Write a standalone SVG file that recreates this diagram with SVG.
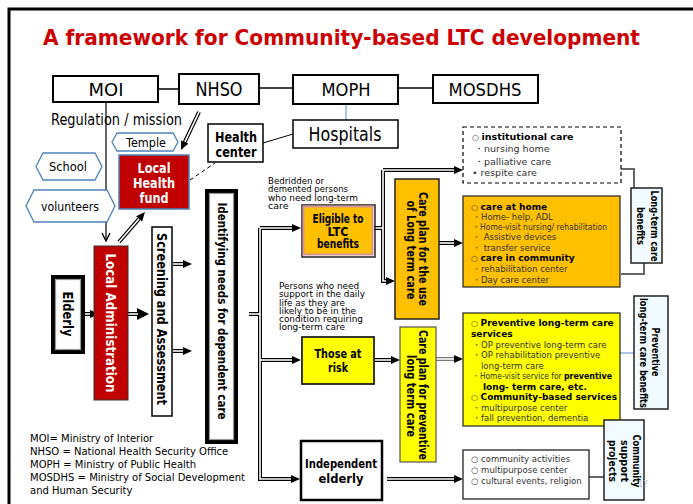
<svg xmlns="http://www.w3.org/2000/svg" width="693" height="504" viewBox="0 0 693 504">
  <defs>
    <style>
      text { font-family: "DejaVu Sans", "Noto Sans", sans-serif; fill: #000; }
      .b { font-weight: bold; }
      .mid { text-anchor: middle; }
      .box { fill: #fff; stroke: #000; stroke-width: 2; }
      .thin { fill: #fff; stroke: #222; stroke-width: 1.3; }
      .hex { fill: #fff; stroke: #4f81bd; stroke-width: 1.3; }
      .red { fill: #c00000; }
      .orange { fill: #ffc000; }
      .yellow { fill: #ffff00; }
      .ice { fill: #f2fbff; stroke: #222; stroke-width: 1.5; }
      .line { fill: none; stroke: #000; stroke-width: 1.5; }
      .grey { fill: none; stroke: #666; stroke-width: 2; }
      .blue { fill: none; stroke: #8eb4e3; stroke-width: 1.5; }
      .dbl-o { fill: none; stroke: #000; stroke-width: 4; }
      .dbl-i { fill: none; stroke: #fff; stroke-width: 1.6; }
      .item { fill: #333; }
      .w { fill: #fff; }
    </style>
    <marker id="ah" viewBox="0 0 9 8" refX="4" refY="4" markerWidth="9" markerHeight="8" markerUnits="userSpaceOnUse" orient="auto">
      <path d="M0,0 L9,4 L0,8 z" fill="#000"/>
    </marker>
    <marker id="ahL" viewBox="0 0 12 12" refX="5" refY="6" markerWidth="12" markerHeight="12" markerUnits="userSpaceOnUse" orient="auto">
      <path d="M0,0 L12,6 L0,12 z" fill="#000"/>
    </marker>
    <marker id="chev" viewBox="0 0 10 10" refX="9" refY="5" markerWidth="10" markerHeight="10" markerUnits="userSpaceOnUse" orient="auto">
      <path d="M1,1 L9,5 L1,9" fill="none" stroke="#000" stroke-width="1.4"/>
    </marker>
  </defs>

  <rect width="693" height="504" fill="#fff"/>
  <!-- slide frame -->
  <path d="M9,504 V9 H693" fill="none" stroke="#000" stroke-width="3"/>

  <text x="43" y="45" class="b" font-size="20.5" style="fill:#cc0000" textLength="597" lengthAdjust="spacingAndGlyphs">A framework for Community-based  LTC development</text>

  <!-- connectors -->
  <g id="connectors">
    <path class="line" d="M158,89 H178 M259,88 H293 M398,88 H433"/>
    <path class="blue" d="M346,104 V120"/>
    <path class="line" d="M263,143 L293,134" style="stroke-width:1"/>
    <path class="line" d="M106,102 V241" marker-end="url(#chev)" style="stroke-width:1.2"/>
    <path d="M190,180 L215,163" fill="none" stroke="#000" stroke-width="1" stroke-dasharray="4,3"/>
    <path class="grey" d="M621,169 H634 V188 M621,274 H644 V263 M589,477 H604"/>
    <path class="blue" d="M620,353 H634"/>

    <!-- double-line arrows: outer strokes -->
    <path class="dbl-o" d="M199,112 L183.1,145.5" marker-end="url(#ah)"/>
    <path class="dbl-o" d="M119,242 L141.7,215.8" marker-end="url(#ah)"/>
    <path class="dbl-o" d="M84,314 H94" marker-end="url(#ah)"/>
    <path class="dbl-o" d="M128,314 H142" marker-end="url(#ahL)"/>
    <path class="dbl-o" d="M173,264 H187" marker-end="url(#ah)"/>
    <path class="dbl-o" d="M173,351 H187" marker-end="url(#ah)"/>
    <path class="dbl-o" d="M249,314 H260"/>
    <path class="dbl-o" d="M260,228 H296" marker-end="url(#ah)"/>
    <path class="dbl-o" d="M260,360 H296" marker-end="url(#ah)"/>
    <path class="dbl-o" d="M260,228 V479 H295" marker-end="url(#ah)"/>
    <path class="dbl-o" d="M374,228 H383"/>
    <path class="dbl-o" d="M383,170 H458" marker-end="url(#ah)"/>
    <path class="dbl-o" d="M383,170 V281 H390" marker-end="url(#ah)"/>
    <path class="dbl-o" d="M439,243 H458" marker-end="url(#ah)"/>
    <path class="dbl-o" d="M374,360 H395" marker-end="url(#ah)"/>
    <path class="dbl-o" d="M436,359 H458" marker-end="url(#ah)" style="stroke:#777"/>
    <path class="dbl-o" d="M387,479 H458" marker-end="url(#ah)"/>

    <!-- double-line arrows: inner gaps -->
    <path class="dbl-i" d="M199,112 L184.9,141.9"/>
    <path class="dbl-i" d="M119,242 L139.1,218.8"/>
    <path class="dbl-i" d="M84,314 H90"/>
    <path class="dbl-i" d="M128,314 H138"/>
    <path class="dbl-i" d="M173,264 H183"/>
    <path class="dbl-i" d="M173,351 H183"/>
    <path class="dbl-i" d="M249,314 H260"/>
    <path class="dbl-i" d="M292,228 H260 V479 H291"/>
    <path class="dbl-i" d="M260,360 H292"/>
    <path class="dbl-i" d="M374,228 H383"/>
    <path class="dbl-i" d="M454,170 H383 V281 H386"/>
    <path class="dbl-i" d="M439,243 H454"/>
    <path class="dbl-i" d="M374,360 H391"/>
    <path class="dbl-i" d="M436,359 H454"/>
    <path class="dbl-i" d="M387,479 H454"/>
  </g>

  <!-- ministries -->
  <g id="moi">
    <rect class="box" x="53" y="76" width="105" height="26"/>
    <text x="106" y="96" class="mid" font-size="18">MOI</text>
  </g>
  <g id="nhso">
    <rect class="box" x="179" y="74" width="80" height="30"/>
    <text x="219" y="96" class="mid" font-size="19" textLength="47" lengthAdjust="spacingAndGlyphs">NHSO</text>
  </g>
  <g id="moph">
    <rect class="box" x="293" y="75" width="105" height="29"/>
    <text x="346" y="96" class="mid" font-size="18" textLength="49" lengthAdjust="spacingAndGlyphs">MOPH</text>
  </g>
  <g id="mosdhs">
    <rect class="box" x="433" y="75" width="105" height="28"/>
    <text x="485" y="96" class="mid" font-size="18" textLength="73" lengthAdjust="spacingAndGlyphs">MOSDHS</text>
  </g>
  <g id="hospitals">
    <rect class="box" x="293" y="120" width="105" height="28" style="stroke-width:1.5"/>
    <text x="345" y="141" class="mid" font-size="20" textLength="73" lengthAdjust="spacingAndGlyphs">Hospitals</text>
  </g>

  <text x="51" y="125" font-size="15" textLength="131" lengthAdjust="spacingAndGlyphs">Regulation / mission</text>

  <g id="health-center">
    <rect class="box" x="208" y="124" width="55" height="38" style="stroke-width:1.5"/>
    <text x="236" y="142" class="b mid" font-size="14" textLength="42" lengthAdjust="spacingAndGlyphs">Health</text>
    <text x="236" y="157" class="b mid" font-size="14" textLength="41" lengthAdjust="spacingAndGlyphs">center</text>
  </g>

  <g id="temple">
    <polygon class="hex" points="112,142 117,133 173,133 178,142 173,151 117,151"/>
    <text x="146" y="147" class="mid" font-size="13" textLength="40" lengthAdjust="spacingAndGlyphs">Temple</text>
  </g>
  <g id="school">
    <polygon class="hex" points="36,166.5 43,153 95,153 102,166.5 95,180 43,180"/>
    <text x="68" y="171" class="mid" font-size="13" textLength="38" lengthAdjust="spacingAndGlyphs">School</text>
  </g>
  <g id="volunteers">
    <polygon class="hex" points="26,206 34,190 107,190 115,206 107,222 34,222"/>
    <text x="70" y="211" class="mid" font-size="13" textLength="58" lengthAdjust="spacingAndGlyphs">volunteers</text>
  </g>

  <g id="local-health-fund">
    <rect class="red" x="119" y="155" width="70" height="54" stroke="#4f81bd" stroke-width="1.5"/>
    <text x="154" y="173" class="b mid w" font-size="14" textLength="33" lengthAdjust="spacingAndGlyphs">Local</text>
    <text x="154" y="188" class="b mid w" font-size="14" textLength="42" lengthAdjust="spacingAndGlyphs">Health</text>
    <text x="154" y="203" class="b mid w" font-size="14" textLength="29" lengthAdjust="spacingAndGlyphs">fund</text>
  </g>

  <g id="elderly">
    <rect x="53" y="277" width="30" height="75" fill="#fff" stroke="#000" stroke-width="4"/>
    <rect x="55.5" y="279.5" width="25" height="70" fill="none" stroke="#999" stroke-width="1.2"/>
    <text transform="translate(68,314) rotate(90)" y="5" class="b mid" font-size="14" textLength="45" lengthAdjust="spacingAndGlyphs">Elderly</text>
  </g>

  <g id="local-administration">
    <rect class="red" x="94" y="246" width="34" height="154" stroke="#333" stroke-width="1"/>
    <text transform="translate(111,323) rotate(90)" y="5" class="b mid w" font-size="14" textLength="139" lengthAdjust="spacingAndGlyphs">Local Administration</text>
  </g>

  <g id="screening">
    <rect class="box" x="152" y="227" width="20" height="189" style="stroke-width:1.5"/>
    <text transform="translate(162,319) rotate(90)" y="5" class="b mid" font-size="14" textLength="172" lengthAdjust="spacingAndGlyphs">Screening and Assessment</text>
  </g>

  <g id="identifying">
    <rect x="207" y="191" width="29" height="251" fill="#fff" stroke="#000" stroke-width="4"/>
    <rect x="209.5" y="193.5" width="24" height="246" fill="none" stroke="#999" stroke-width="1.2"/>
    <text transform="translate(222,311) rotate(90)" y="4.5" class="b mid" font-size="12.5" textLength="217" lengthAdjust="spacingAndGlyphs">Identifying needs for dependent care</text>
  </g>

  <g id="bedridden-note" font-size="9.5">
    <text x="268" y="184" textLength="56" lengthAdjust="spacingAndGlyphs">Bedridden or</text>
    <text x="268" y="192" textLength="80" lengthAdjust="spacingAndGlyphs">demented persons</text>
    <text x="268" y="200.5" textLength="90" lengthAdjust="spacingAndGlyphs">who need long-term</text>
    <text x="268" y="208.5">care</text>
  </g>

  <g id="eligible">
    <rect x="302" y="205" width="73" height="52" fill="none" stroke="#222" stroke-width="1.5"/>
    <rect class="orange" x="303.5" y="206.5" width="69" height="48" stroke="#d99594" stroke-width="2"/>
    <text x="338" y="223" class="b mid" font-size="12.5" textLength="51" lengthAdjust="spacingAndGlyphs">Eligible to</text>
    <text x="338" y="236" class="b mid" font-size="12.5" textLength="21" lengthAdjust="spacingAndGlyphs">LTC</text>
    <text x="338" y="248" class="b mid" font-size="12.5" textLength="42" lengthAdjust="spacingAndGlyphs">benefits</text>
  </g>

  <g id="care-plan-ltc">
    <rect class="orange" x="395" y="179" width="44" height="140" stroke="#222" stroke-width="1.5"/>
    <text transform="translate(423,249) rotate(90)" y="4.5" class="b mid" font-size="12.5" textLength="114" lengthAdjust="spacingAndGlyphs">Care plan for the use</text>
    <text transform="translate(411,250) rotate(90)" y="4.5" class="b mid" font-size="12.5" textLength="99" lengthAdjust="spacingAndGlyphs">of Long term care</text>
  </g>

  <g id="institutional-care" font-size="10">
    <rect x="463" y="127" width="158" height="56" fill="#fff" stroke="#000" stroke-width="1.2" stroke-dasharray="4,3"/>
    <text x="472" y="140"><tspan class="item" font-size="8">○ </tspan><tspan class="b" font-size="9.5">institutional care</tspan></text>
    <text x="474" y="152" class="item" font-size="9.5">・nursing home</text>
    <text x="474" y="165" class="item" font-size="9.5">・palliative care</text>
    <text x="472" y="176" class="item" font-size="9.5">•  respite care</text>
  </g>

  <g id="care-at-home" font-size="8.5">
    <rect class="orange" x="463" y="196" width="157" height="91" stroke="#222" stroke-width="1.2"/>
    <text x="471" y="210"><tspan class="item" font-size="8">○  </tspan><tspan class="b" font-size="9">care  at home</tspan></text>
    <text x="472" y="220" class="item">・Home- help, ADL</text>
    <text x="472" y="230" class="item" textLength="135" lengthAdjust="spacingAndGlyphs">・Home-visit nursing/ rehabilitation</text>
    <text x="472" y="240" class="item">・ Assistive devices</text>
    <text x="472" y="251" class="item">・ transfer service</text>
    <text x="471" y="261"><tspan class="item" font-size="8">○ </tspan><tspan class="b" font-size="9">care in community</tspan></text>
    <text x="472" y="272" class="item">・rehabilitation center</text>
    <text x="472" y="283" class="item">・Day care center</text>
  </g>

  <g id="ltc-benefits">
    <rect class="ice" x="631" y="188" width="31" height="75"/>
    <text transform="translate(655,226) rotate(90)" y="4" class="b mid" font-size="10.5" textLength="71" lengthAdjust="spacingAndGlyphs">Long-term care</text>
    <text transform="translate(641,226) rotate(90)" y="4" class="b mid" font-size="10.5" textLength="38" lengthAdjust="spacingAndGlyphs">benefits</text>
  </g>

  <g id="risk-note" font-size="9.5">
    <text x="279" y="289" textLength="80" lengthAdjust="spacingAndGlyphs">Persons who need</text>
    <text x="279" y="297" textLength="86" lengthAdjust="spacingAndGlyphs">support in the daily</text>
    <text x="279" y="305.5" textLength="66" lengthAdjust="spacingAndGlyphs">life as they are</text>
    <text x="279" y="314" textLength="77" lengthAdjust="spacingAndGlyphs">likely to be in the</text>
    <text x="279" y="322" textLength="84" lengthAdjust="spacingAndGlyphs">condition requiring</text>
    <text x="279" y="330" textLength="66" lengthAdjust="spacingAndGlyphs">long-term care</text>
  </g>

  <g id="those-at-risk">
    <rect class="yellow" x="302" y="337" width="72" height="47" stroke="#222" stroke-width="1.8"/>
    <text x="338" y="358" class="b mid" font-size="13" textLength="47" lengthAdjust="spacingAndGlyphs">Those at</text>
    <text x="338" y="372" class="b mid" font-size="13" textLength="20" lengthAdjust="spacingAndGlyphs">risk</text>
  </g>

  <g id="care-plan-preventive">
    <rect class="yellow" x="400" y="327" width="36" height="135" stroke="#555" stroke-width="1.2"/>
    <text transform="translate(423,395) rotate(90)" y="4.5" class="b mid" font-size="12.5" textLength="130" lengthAdjust="spacingAndGlyphs">Care plan for preventive</text>
    <text transform="translate(411,396) rotate(90)" y="4.5" class="b mid" font-size="12.5" textLength="82" lengthAdjust="spacingAndGlyphs">long term care</text>
  </g>

  <g id="preventive-services" font-size="8.5">
    <rect class="yellow" x="463" y="313" width="157" height="113" stroke="#222" stroke-width="1.2"/>
    <text x="471" y="326"><tspan class="item" font-size="8">○ </tspan><tspan class="b" font-size="9">Preventive long-term care</tspan></text>
    <text x="471" y="337" class="b" font-size="9">services</text>
    <text x="472" y="348" class="item">・OP preventive long-term care</text>
    <text x="472" y="358" class="item">・OP rehabilitation preventive</text>
    <text x="481" y="369" class="item">long-term care</text>
    <text x="472" y="379" textLength="140" lengthAdjust="spacingAndGlyphs"><tspan class="item">・Home-visit service for </tspan><tspan class="b" font-size="9">preventive</tspan></text>
    <text x="483" y="390" class="b" font-size="9">long- term care, etc.</text>
    <text x="471" y="400"><tspan class="item" font-size="8">○  </tspan><tspan class="b" font-size="9">Community-based services</tspan></text>
    <text x="472" y="411" class="item">・multipurpose center</text>
    <text x="472" y="421" class="item">・fall prevention, dementia</text>
  </g>

  <g id="preventive-benefits">
    <rect class="ice" x="634" y="296" width="34" height="113"/>
    <text transform="translate(656,352) rotate(90)" y="4" class="b mid" font-size="10.5" textLength="49" lengthAdjust="spacingAndGlyphs">Preventive</text>
    <text transform="translate(644,353) rotate(90)" y="4" class="b mid" font-size="10.5" textLength="110" lengthAdjust="spacingAndGlyphs">long-term care benefits</text>
  </g>

  <g id="independent-elderly">
    <rect class="box" x="301" y="441" width="81" height="59" style="stroke-width:2.5"/>
    <text x="341" y="468" class="b mid" font-size="13" textLength="72" lengthAdjust="spacingAndGlyphs">Independent</text>
    <text x="341" y="483" class="b mid" font-size="13" textLength="45" lengthAdjust="spacingAndGlyphs">elderly</text>
  </g>

  <g id="community-activities" font-size="8.5">
    <rect class="thin" x="463" y="450" width="126" height="49"/>
    <text x="471" y="462" class="item">○ community activities</text>
    <text x="471" y="473" class="item">○ multipurpose center</text>
    <text x="471" y="484" class="item">○ cultural events, religion</text>
  </g>

  <g id="community-support">
    <rect class="ice" x="604" y="420" width="40" height="80"/>
    <text transform="translate(637,461) rotate(90)" y="4" class="b mid" font-size="10.5" textLength="53" lengthAdjust="spacingAndGlyphs">Community</text>
    <text transform="translate(625,461) rotate(90)" y="4" class="b mid" font-size="10.5" textLength="42" lengthAdjust="spacingAndGlyphs">support</text>
    <text transform="translate(613,461) rotate(90)" y="4" class="b mid" font-size="10.5" textLength="42" lengthAdjust="spacingAndGlyphs">projects</text>
    <text x="638" y="487" font-size="8" style="fill:#ccc">17</text>
  </g>

  <g id="legend" font-size="10">
    <text x="30" y="442">MOI= Ministry of Interior</text>
    <text x="30" y="455">NHSO = National Health Security Office</text>
    <text x="30" y="468">MOPH = Ministry of Public Health</text>
    <text x="30" y="481">MOSDHS = Ministry of Social Development</text>
    <text x="30" y="494">and Human Security</text>
  </g>
</svg>
